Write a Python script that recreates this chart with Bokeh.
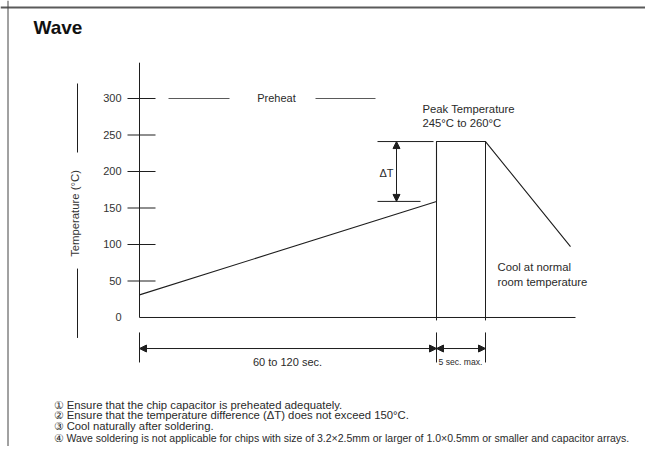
import math
from bokeh.plotting import figure
from bokeh.models import Range1d, LinearAxis, FixedTicker, Arrow, NormalHead, Span
from bokeh.core.properties import value
from bokeh.embed import file_html
from bokeh.resources import INLINE

# ---------------- data ----------------
TITLE = "Wave"
Y_LABEL = "Temperature (°C)"
TEMP_TICKS = [0, 50, 100, 150, 200, 250, 300]
# schematic soldering profile: time position (diagram units) and temperature (°C)
PROFILE_TIME = [0, 297, 297, 346, 431]
PROFILE_TEMP = [31, 159, 241, 241, 97]
PREHEAT_LEVEL = 300
PREHEAT_TEXT = "Preheat"
PEAK_TEXT = ["Peak Temperature", "245°C to 260°C"]
DELTA_TEXT = "ΔT"
COOL_TEXT = ["Cool at normal", "room temperature"]
SPAN_TEXT = ["60 to 120 sec.", "5 sec. max."]
NOTES = [
    "① Ensure that the chip capacitor is preheated adequately.",
    "② Ensure that the temperature difference (ΔT) does not exceed 150°C.",
    "③ Cool naturally after soldering.",
    "④ Wave soldering is not applicable for chips with size of 3.2×2.5mm or larger of 1.0×0.5mm or smaller and capacitor arrays.",
]

FONT = "Liberation Sans"
INK = "#1e1e1e"
TXT = "#2a2a2a"
GREY = "#5a5a5a"

X0, X1 = -139, 506
Y0, Y1 = -176.7, 434.2

p = figure(width=645, height=446, x_range=Range1d(X0, X1), y_range=Range1d(Y0, Y1),
           x_axis_type=None, y_axis_type=None, toolbar_location=None,
           output_backend="svg", min_border=0, outline_line_color=None)
p.background_fill_color = "white"
p.border_fill_color = "white"

# frame borders of the panel
p.add_layout(Span(location=424.5, dimension="width", line_color=GREY, line_width=2))
p.add_layout(Span(location=-131.5, dimension="height", line_color="#444444", line_width=1))

# temperature axis labels (axis drawn at the profile's time origin)
yax = LinearAxis(ticker=FixedTicker(ticks=TEMP_TICKS), fixed_location=0, bounds=(0, 349),
                 major_tick_in=0, major_tick_out=0, minor_tick_in=0, minor_tick_out=0,
                 major_label_standoff=18, axis_line_color=None,
                 major_label_text_font=FONT, major_label_text_font_size="11px",
                 major_label_text_color="#333333")
p.add_layout(yax, "left")
# axis line and tick marks crossing it
p.segment(x0=[0], y0=[0], x1=[0], y1=[349], line_color=INK, line_width=1)
p.segment(x0=-12, x1=16, y0=TEMP_TICKS[1:], y1=TEMP_TICKS[1:], line_color=INK, line_width=1.1)

# time baseline
p.segment(x0=[0], y0=[0], x1=[436], y1=[0], line_color=INK, line_width=1)

# axis title with flanking rules
p.text(x=[-64.5], y=[142.5], text=[Y_LABEL], angle=math.pi / 2, text_align="center",
       text_baseline="middle", text_font=value(FONT), text_font_size=value("11.3px"),
       text_color="#333333")
p.segment(x0=[-62, -62], x1=[-62, -62], y0=[320.5, 67], y1=[226, -28], line_color=INK, line_width=1)

# profile
p.line(PROFILE_TIME, PROFILE_TEMP, line_color=INK, line_width=1.1)
# plateau extension lines down to the baseline
p.segment(x0=[PROFILE_TIME[1], PROFILE_TIME[3]], x1=[PROFILE_TIME[1], PROFILE_TIME[3]],
          y0=[PROFILE_TEMP[2], PROFILE_TEMP[3]], y1=[-4, -4], line_color=INK, line_width=1)

# preheat marker
p.segment(x0=[29, 176], x1=[90, 236], y0=[PREHEAT_LEVEL] * 2, y1=[PREHEAT_LEVEL] * 2,
          line_color=GREY, line_width=1.1)
p.text(x=[137], y=[PREHEAT_LEVEL], text=[PREHEAT_TEXT], text_align="center",
       text_baseline="middle", text_font=value(FONT), text_font_size=value("11px"),
       text_color=TXT)

# peak label
p.text(x=[283, 283], y=[285, 267], text=PEAK_TEXT, text_align="left", text_baseline="middle",
       text_font=value(FONT), text_font_size=value("11.3px"), text_color=TXT)

# delta T dimension
p.segment(x0=[238, 238], x1=[294, 281], y0=[PROFILE_TEMP[2], PROFILE_TEMP[1]],
          y1=[PROFILE_TEMP[2], PROFILE_TEMP[1]], line_color=INK, line_width=1)
p.add_layout(Arrow(x_start=257, y_start=PROFILE_TEMP[1], x_end=257, y_end=PROFILE_TEMP[2],
                   line_color=INK, line_width=1,
                   start=NormalHead(size=7, fill_color=INK, line_color=INK),
                   end=NormalHead(size=7, fill_color=INK, line_color=INK)))
p.text(x=[247], y=[198.6], text=[DELTA_TEXT], text_align="center", text_baseline="middle",
       text_font=value(FONT), text_font_size=value("11px"), text_color=TXT)

# cooling label
p.text(x=[358, 358], y=[68.5, 49.3], text=COOL_TEXT, text_align="left", text_baseline="middle",
       text_font=value(FONT), text_font_size=value("11.3px"), text_color=TXT)

# time dimensions below the baseline
dim_x = [0, PROFILE_TIME[1], PROFILE_TIME[3]]
p.segment(x0=dim_x, x1=dim_x, y0=-20.5, y1=-61.6, line_color=INK, line_width=1)
for xs, xe in [(dim_x[0], dim_x[1]), (dim_x[1], dim_x[2])]:
    p.add_layout(Arrow(x_start=xs, y_start=-42.5, x_end=xe, y_end=-42.5,
                       line_color=INK, line_width=1,
                       start=NormalHead(size=7, fill_color=INK, line_color=INK),
                       end=NormalHead(size=7, fill_color=INK, line_color=INK)))
p.text(x=[148], y=[-61.2], text=[SPAN_TEXT[0]], text_align="center", text_baseline="middle",
       text_font=value(FONT), text_font_size=value("11px"), text_color=TXT)
p.text(x=[299], y=[-60.5], text=[SPAN_TEXT[1]], text_align="left", text_baseline="middle",
       text_font=value(FONT), text_font_size=value("8.6px"), text_color=TXT)

# title
p.text(x=[-106], y=[397], text=[TITLE], text_align="left", text_baseline="middle",
       text_font=value(FONT), text_font_size=value("19px"), text_font_style="bold",
       text_color="#111111")

# notes
p.text(x=[-86] * 3, y=[-119.2, -134.2, -149.3], text=NOTES[:3], text_align="left",
       text_baseline="middle", text_font=value(FONT), text_font_size=value("11.3px"),
       text_color=TXT)
p.text(x=[-86], y=[-164.4], text=NOTES[3:], text_align="left",
       text_baseline="middle", text_font=value(FONT), text_font_size=value("10.5px"),
       text_color=TXT)

open("out.html", "w").write(file_html(p, INLINE))
